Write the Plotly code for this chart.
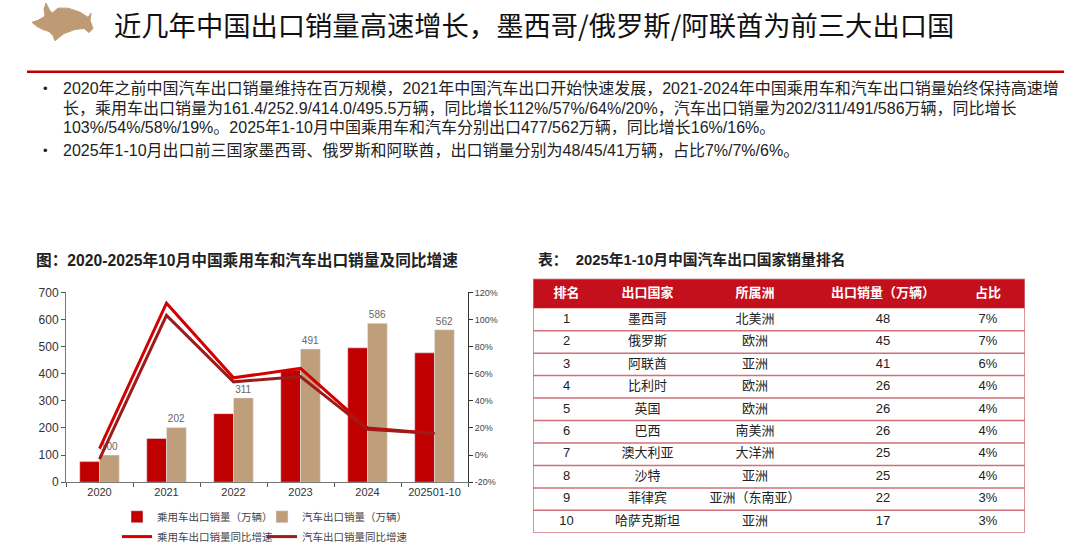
import plotly.graph_objects as go

# ---------------- data ----------------
years = ["2020", "2021", "2022", "2023", "2024", "202501-10"]
passenger_sales = [76, 161.4, 252.9, 414.0, 495.5, 477]
auto_sales = [100, 202, 311, 491, 586, 562]
passenger_yoy = [4.8, 112, 57, 64, 20, 16]
auto_yoy = [-3, 103, 54, 58, 19, 16]

left_ticks = [0, 100, 200, 300, 400, 500, 600, 700]
right_ticks = [-20, 0, 20, 40, 60, 80, 100, 120]

table_header = ["排名", "出口国家", "所属洲", "出口销量（万辆）", "占比"]
ranks = ["1", "2", "3", "4", "5", "6", "7", "8", "9", "10"]
countries = ["墨西哥", "俄罗斯", "阿联酋", "比利时", "英国", "巴西", "澳大利亚", "沙特", "菲律宾", "哈萨克斯坦"]
continents = ["北美洲", "欧洲", "亚洲", "欧洲", "欧洲", "南美洲", "大洋洲", "亚洲", "亚洲（东南亚）", "亚洲"]
volumes = ["48", "45", "41", "26", "26", "26", "25", "25", "22", "17"]
shares = ["7%", "7%", "6%", "4%", "4%", "4%", "4%", "4%", "3%", "3%"]

title_text = "近几年中国出口销量高速增长，墨西哥/俄罗斯/阿联酋为前三大出口国"
bullet_lines = [
    "2020年之前中国汽车出口销量维持在百万规模，2021年中国汽车出口开始快速发展，2021-2024年中国乘用车和汽车出口销量始终保持高速增",
    "长，乘用车出口销量为161.4/252.9/414.0/495.5万辆，同比增长112%/57%/64%/20%，汽车出口销量为202/311/491/586万辆，同比增长",
    "103%/54%/58%/19%。2025年1-10月中国乘用车和汽车分别出口477/562万辆，同比增长16%/16%。",
    "2025年1-10月出口前三国家墨西哥、俄罗斯和阿联酋，出口销量分别为48/45/41万辆，占比7%/7%/6%。",
]
chart_title = "图：2020-2025年10月中国乘用车和汽车出口销量及同比增速"
table_title = "表：  2025年1-10月中国汽车出口国家销量排名"

# ---------------- layout constants ----------------
W, H = 1080, 550
RED = "#C00000"
TAN = "#BE9E7B"
DARKRED = "#9E1B1B"
HEADRED = "#C4101C"
BORDER = "#D0707A"
CJK = "Liberation Sans, Noto Sans CJK SC"


def px(x):
    return x / W


def py(r):
    # vertical position (in target pixels) -> paper fraction
    y = (r - 5.0) / 0.984
    return 1 - y / H


fig = go.Figure()

# ---------- chart ----------
fig.add_trace(go.Bar(x=years, y=passenger_sales, name="乘用车出口销量（万辆）",
                     marker_color=RED, legend="legend"))
fig.add_trace(go.Bar(x=years, y=auto_sales, name="汽车出口销量（万辆）",
                     marker_color=TAN, legend="legend",
                     text=[f"{v:g}" for v in auto_sales], textposition="outside",
                     textfont=dict(size=10, color="#666666", family="Liberation Sans"),
                     cliponaxis=False))
fig.add_trace(go.Scatter(x=years, y=passenger_yoy, name="乘用车出口销量同比增速",
                         mode="lines", line=dict(color="#D40000", width=3),
                         yaxis="y2", legend="legend2"))
fig.add_trace(go.Scatter(x=years, y=auto_yoy, name="汽车出口销量同比增速",
                         mode="lines", line=dict(color=DARKRED, width=3),
                         yaxis="y2", legend="legend2"))

# ---------- table (text drawn on a hidden axis pair) ----------
col_w = [67, 95, 120, 136, 74]
col_centers = []
acc = 0
for w in col_w:
    col_centers.append(acc + w / 2)
    acc += w
tbl_w = acc
n_rows = len(ranks)
head_units = 29 / 22.1          # header height in row units
y_top = -0.5 - head_units
y_head = -0.5 - head_units / 2
row_pos = list(range(n_rows))

columns = [ranks, countries, continents, volumes, shares]
for ci, col in enumerate(columns):
    fig.add_trace(go.Scatter(x=[col_centers[ci]] * n_rows, y=row_pos, text=col,
                             mode="text", textposition="middle center",
                             textfont=dict(size=13, color="#222222", family=CJK),
                             xaxis="x3", yaxis="y3", showlegend=False,
                             hoverinfo="skip", cliponaxis=False))
fig.add_trace(go.Scatter(x=col_centers, y=[y_head] * len(table_header),
                         text=[f"<b>{h}</b>" for h in table_header],
                         mode="text", textposition="middle center",
                         textfont=dict(size=13, color="white", family=CJK),
                         xaxis="x3", yaxis="y3", showlegend=False,
                         hoverinfo="skip", cliponaxis=False))

shapes = []
shapes.append(dict(type="rect", xref="x3", yref="y3", x0=0, x1=tbl_w, y0=y_top, y1=-0.5,
                   fillcolor=HEADRED, line=dict(width=0), layer="below"))
for i in range(n_rows - 1):
    shapes.append(dict(type="line", xref="x3", yref="y3", x0=0, x1=tbl_w,
                       y0=i + 0.5, y1=i + 0.5, line=dict(color=BORDER, width=1.5)))
shapes.append(dict(type="rect", xref="x3", yref="y3", x0=0, x1=tbl_w,
                   y0=y_top, y1=n_rows - 0.5, line=dict(color=BORDER, width=1.5)))

# red rule under title
shapes.append(dict(type="line", xref="paper", yref="paper",
                   x0=px(27), x1=px(1064), y0=py(75.5), y1=py(75.5),
                   line=dict(color=RED, width=2.5)))

# bull logo (decorative)
bull = [(32, 27), (38, 25), (45, 21), (44, 14), (46, 8), (49, 14), (52, 18),
        (58, 13), (68, 13), (80, 17), (88, 22), (91, 18), (90, 25), (93, 33),
        (89, 37), (84, 33), (75, 34), (64, 38), (55, 45), (53, 40), (49, 36),
        (43, 34), (37, 31)]
path = "M " + " L ".join(f"{px(x):.5f},{py(y):.5f}" for x, y in bull) + " Z"
shapes.append(dict(type="path", xref="paper", yref="paper", path=path,
                   fillcolor="#BF9B75", line=dict(color="#BF9B75", width=1)))

annotations = []
annotations.append(dict(text=title_text, x=px(112), y=py(29), xref="paper", yref="paper",
                        xanchor="left", yanchor="middle", showarrow=False,
                        font=dict(size=27.3, color="#111111", family="Noto Sans CJK SC")))
line_y = [92.2, 111.4, 130.6, 152.8]
for t, yy in zip(bullet_lines, line_y):
    annotations.append(dict(text=t, x=px(61), y=py(yy), xref="paper", yref="paper",
                            xanchor="left", yanchor="middle", showarrow=False,
                            font=dict(size=16, color="#222222", family=CJK)))
for yy in (line_y[0], line_y[3]):
    annotations.append(dict(text="•", x=px(45), y=py(yy), xref="paper", yref="paper",
                            xanchor="center", yanchor="middle", showarrow=False,
                            font=dict(size=13, color="#222222", family=CJK)))
annotations.append(dict(text=f"<b>{chart_title}</b>", x=px(34), y=py(261), xref="paper",
                        yref="paper", xanchor="left", yanchor="middle", showarrow=False,
                        font=dict(size=15.7, color="#222222", family=CJK)))
annotations.append(dict(text=f"<b>{table_title}</b>", x=px(536), y=py(260), xref="paper",
                        yref="paper", xanchor="left", yanchor="middle", showarrow=False,
                        font=dict(size=14.8, color="#222222", family=CJK)))

fig.update_layout(
    width=W, height=H, margin=dict(l=0, r=0, t=0, b=0, autoexpand=False),
    paper_bgcolor="white", plot_bgcolor="white",
    barmode="group", bargap=0.41, bargroupgap=0,
    shapes=shapes, annotations=annotations,
    xaxis=dict(domain=[px(66), px(468)], showgrid=False, showline=True,
               linecolor="#777777", linewidth=1, ticks="outside", tickson="boundaries",
               ticklen=4, tickcolor="#555555", fixedrange=True,
               tickfont=dict(size=11, color="#333333", family="Liberation Sans")),
    yaxis=dict(domain=[py(479.5), py(292.7)], range=[0, 700], tickvals=left_ticks,
               showgrid=False, showline=True, linecolor="#777777", linewidth=1,
               ticks="outside", ticklen=4, tickcolor="#555555", zeroline=False,
               fixedrange=True,
               tickfont=dict(size=12, color="#333333", family="Liberation Sans")),
    yaxis2=dict(overlaying="y", side="right", range=[-20, 120], tickvals=right_ticks,
                ticktext=[f"{v}%" for v in right_ticks], showgrid=False, showline=True,
                linecolor="#333333", linewidth=1, ticks="outside", ticklen=4,
                tickcolor="#333333", zeroline=False, anchor="x", fixedrange=True,
                tickfont=dict(size=9, color="#444444", family="Liberation Sans")),
    xaxis3=dict(domain=[px(533), px(1025)], range=[0, tbl_w], visible=False,
                anchor="y3", fixedrange=True),
    yaxis3=dict(domain=[py(529.3), py(279.3)], range=[n_rows - 0.5, y_top], visible=False,
                anchor="x3", fixedrange=True),
    legend=dict(orientation="h", x=px(117), y=py(513.5), xanchor="left", yanchor="middle",
                entrywidth=100, font=dict(size=10.5, color="#444444", family=CJK),
                bgcolor="rgba(0,0,0,0)", traceorder="normal"),
    legend2=dict(orientation="h", x=px(117), y=py(533), xanchor="left", yanchor="middle",
                 entrywidth=100, font=dict(size=10.5, color="#444444", family=CJK),
                 bgcolor="rgba(0,0,0,0)", traceorder="normal"),
)

fig.write_html("out.html", config={"displayModeBar": False},
               post_script="document.body.style.margin='0';document.body.style.overflow='hidden';")
